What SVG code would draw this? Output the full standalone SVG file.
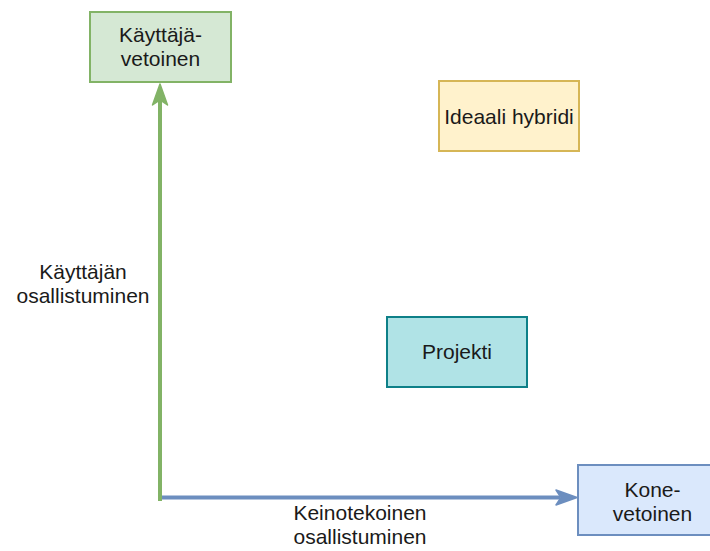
<svg xmlns="http://www.w3.org/2000/svg" width="710" height="551" viewBox="0 0 710 551">
<style>
text{font-family:"Liberation Sans",Arial,sans-serif;font-size:21px;fill:#1a1a1a;text-anchor:middle}
.box{stroke-width:2}
</style>
<rect width="710" height="551" fill="#ffffff"/>
<g id="connectors">
<g id="edge-x">
<line x1="160" y1="497.5" x2="560" y2="497.5" stroke="#6c8ebf" stroke-width="4"/>
<polygon points="577,497.5 556,490 561,497.5 556,505" fill="#6c8ebf" stroke="#6c8ebf" stroke-width="1.5" stroke-linejoin="round"/>
</g>
<g id="edge-y">
<line x1="160" y1="501" x2="160" y2="100" stroke="#82b366" stroke-width="4"/>
<polygon points="160,84 152.5,105 160,100 167.5,105" fill="#82b366" stroke="#82b366" stroke-width="1.5" stroke-linejoin="round"/>
</g>
</g>
<g id="label-y">
<text x="83" y="279">Käyttäjän</text>
<text x="83" y="303">osallistuminen</text>
</g>
<g id="label-x">
<text x="360" y="520">Keinotekoinen</text>
<text x="360" y="544">osallistuminen</text>
</g>
<g id="node-kayttaja">
<rect class="box" x="90" y="12" width="141" height="70" fill="#d5e8d4" stroke="#82b366"/>
<text x="160.5" y="42">Käyttäjä-</text>
<text x="160.5" y="66">vetoinen</text>
</g>
<g id="node-ideaali">
<rect class="box" x="439" y="81" width="140" height="70" fill="#fff2cc" stroke="#d6b656"/>
<text x="509" y="123.5">Ideaali hybridi</text>
</g>
<g id="node-projekti">
<rect class="box" x="387" y="317" width="140" height="70" fill="#b0e3e6" stroke="#0e8088"/>
<text x="457" y="359">Projekti</text>
</g>
<g id="node-kone">
<rect class="box" x="578" y="465" width="150" height="70" fill="#dae8fc" stroke="#6c8ebf"/>
<text x="652.5" y="497">Kone-</text>
<text x="652.5" y="521">vetoinen</text>
</g>
</svg>
